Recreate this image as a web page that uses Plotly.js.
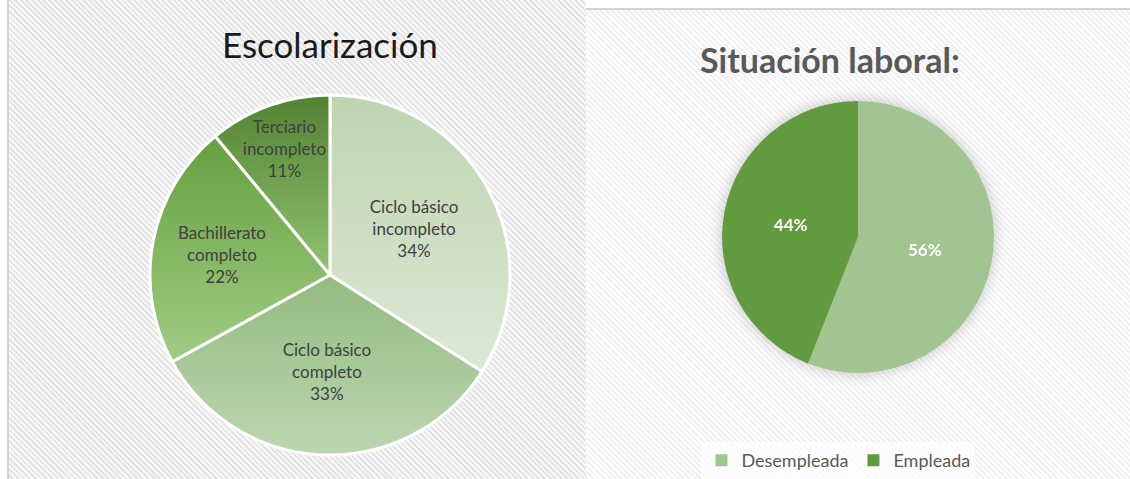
<!DOCTYPE html>
<html>
<head>
<meta charset="utf-8">
<script src="https://cdn.plot.ly/plotly-3.0.1.min.js"></script>
<style>
  html, body { margin:0; padding:0; background:#ffffff; }
  #wrap { position:relative; width:1130px; height:479px; overflow:hidden; }
  #panelL { position:absolute; left:7px; top:0; width:577px; height:479px;
    border-left:2px solid #d2d2d2;
    background: repeating-linear-gradient(45deg, #f8f8f8 0px, #f8f8f8 2px, #e5e5e5 2px, #e5e5e5 4px); }
  #panelR { position:absolute; left:586px; top:8px; width:544px; height:471px;
    border-top:2px solid #d4d4d4;
    background: repeating-linear-gradient(45deg, #fdfdfd 0px, #fdfdfd 2px, #f1f1f1 2px, #f1f1f1 4px); }
  #chart { position:absolute; left:0; top:0; width:1130px; height:479px; }
</style>
</head>
<body>
<div id="wrap">
  <div id="panelL"></div>
  <div id="panelR"></div>
  <div id="chart"></div>
</div>
<script>
// ---- Data ----
const eduCategories = ["Ciclo básico incompleto", "Ciclo básico completo", "Bachillerato completo", "Terciario incompleto"];
const eduLabelLines = ["Ciclo básico<br>incompleto", "Ciclo básico<br>completo", "Bachillerato<br>completo", "Terciario<br>incompleto"];
const eduValues = [34, 33, 22, 11];

const workCategories = ["Desempleada", "Empleada"];
const workValues = [56, 44];

const titleLeft = "Escolarización";
const titleRight = "Situación laboral:";

// ---- Styles ----
const eduGradients = [
  ["#bdd5b1", "#dce8d4"],
  ["#93bb7f", "#bdd6b1"],
  ["#65a03f", "#a0cd84"],
  ["#538332", "#90c371"]
];
const eduFlat = eduGradients.map(g => g[0]);
const workColors = ["#a1c490", "#629a40"];

const traces = [
  {
    type: "pie",
    labels: eduCategories,
    values: eduValues,
    text: eduLabelLines,
    texttemplate: "%{text}<br>%{percent:.0%}",
    textposition: "inside",
    insidetextorientation: "horizontal",
    textfont: { family: "Lato, 'Open Sans', sans-serif", size: 17, color: "#404040" },
    sort: false,
    direction: "clockwise",
    rotation: 0,
    marker: { colors: eduFlat, line: { color: "#ffffff", width: 3 } },
    domain: { x: [0.1327, 0.4513], y: [0.050, 0.8017] },
    showlegend: false,
    hoverinfo: "label+percent"
  },
  {
    type: "pie",
    labels: workCategories,
    values: workValues,
    texttemplate: "%{percent:.0%}",
    textposition: "inside",
    insidetextorientation: "horizontal",
    textfont: { family: "Lato, 'Open Sans', sans-serif", size: 17, color: "#ffffff", weight: "bold" },
    sort: false,
    direction: "clockwise",
    rotation: 0,
    marker: { colors: workColors, line: { color: "#ffffff", width: 0 } },
    domain: { x: [0.639, 0.8796], y: [0.2213, 0.7891] },
    showlegend: true,
    hoverinfo: "label+percent"
  }
];

const layout = {
  width: 1130,
  height: 479,
  margin: { l: 0, r: 0, t: 0, b: 0, autoexpand: false },
  paper_bgcolor: "rgba(0,0,0,0)",
  plot_bgcolor: "rgba(0,0,0,0)",
  showlegend: true,
  legend: {
    orientation: "h",
    x: 0.742, xanchor: "center",
    y: 0, yanchor: "bottom",
    bgcolor: "rgba(255,255,255,0.7)",
    font: { family: "Lato, 'Open Sans', sans-serif", size: 18, color: "#595959" },
    itemwidth: 30
  },
  annotations: [
    { text: titleLeft, x: 0.292, y: 1 - 44 / 479, xref: "paper", yref: "paper",
      xanchor: "center", yanchor: "middle", showarrow: false,
      font: { family: "Lato, 'Open Sans', sans-serif", size: 35, color: "#1a1a1a" } },
    { text: "<b>" + titleRight + "</b>", x: 0.7345, y: 1 - 59 / 479, xref: "paper", yref: "paper",
      xanchor: "center", yanchor: "middle", showarrow: false,
      font: { family: "Lato, 'Open Sans', sans-serif", size: 34, color: "#595959" } }
  ]
};

function applyGradients() {
  const svg = document.querySelector("#chart .main-svg");
  if (!svg) return;
  let defs = svg.querySelector("defs#custom-grads");
  if (!defs) {
    defs = document.createElementNS("http://www.w3.org/2000/svg", "defs");
    defs.setAttribute("id", "custom-grads");
    svg.insertBefore(defs, svg.firstChild);
    eduGradients.forEach((g, i) => {
      const lg = document.createElementNS("http://www.w3.org/2000/svg", "linearGradient");
      lg.setAttribute("id", "eduGrad" + i);
      lg.setAttribute("x1", "0"); lg.setAttribute("y1", "0");
      lg.setAttribute("x2", "0"); lg.setAttribute("y2", "1");
      [[0, g[0]], [1, g[1]]].forEach(([o, c]) => {
        const st = document.createElementNS("http://www.w3.org/2000/svg", "stop");
        st.setAttribute("offset", o);
        st.setAttribute("stop-color", c);
        lg.appendChild(st);
      });
      defs.appendChild(lg);
    });
  }
  const pies = document.querySelectorAll("#chart g.trace");
  if (pies.length > 0) {
    pies[0].querySelectorAll("g.slice path.surface").forEach((p, i) => {
      p.style.fill = "url(#eduGrad" + i + ")";
    });
    // keep the inside labels at their full font size (like the original), centred where Plotly put them
    const svgRect = svg.getBoundingClientRect();
    pies[0].querySelectorAll("g.slice text.slicetext").forEach(t => {
      const tr = t.getAttribute("transform") || "";
      if (t.dataset.unscaled) return;
      const m = tr.match(/scale\(([^)]+)\)/);
      if (!m) return;
      const s = parseFloat(m[1]);
      if (!(s > 0) || s >= 0.999) return;
      const r = t.getBoundingClientRect();
      const cx = r.left + r.width / 2 - svgRect.left;
      const cy = r.top + r.height / 2 - svgRect.top;
      t.setAttribute("transform",
        "translate(" + cx + "," + cy + ") scale(" + (1 / s) + ") translate(" + (-cx) + "," + (-cy) + ") " + tr);
      t.dataset.unscaled = "1";
    });
  }
  if (pies.length > 1) {
    pies[1].style.filter = "drop-shadow(0px 0px 7px rgba(0,0,0,0.22))";
  }
}

Plotly.newPlot("chart", traces, layout, { displayModeBar: false, staticPlot: true }).then(gd => {
  applyGradients();
  gd.on("plotly_afterplot", applyGradients);
});
</script>
</body>
</html>
